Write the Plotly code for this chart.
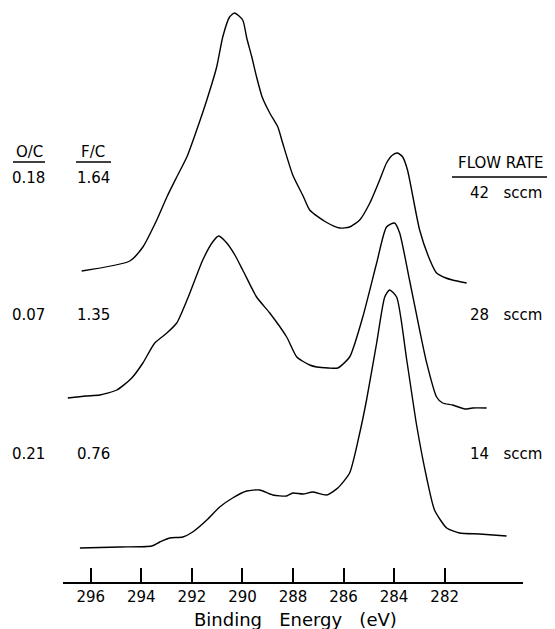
import plotly.graph_objects as go

# ---- data (binding energy in eV, intensity in arbitrary units) ----
energy_42 = [296.36, 294.46, 293.94, 293.39, 292.99, 292.60, 292.20, 291.81, 291.41, 291.02, 290.78, 290.51,
             290.31, 289.99, 289.83, 289.63, 289.44, 289.22, 288.92, 288.60, 288.41, 288.01, 287.60, 287.34,
             286.70, 286.15, 285.76, 285.36, 284.96, 284.57, 284.30, 284.06, 283.86, 283.66, 283.47,
             282.99, 282.60, 282.32, 281.95, 281.69, 281.13]
inten_42 = [12, 22, 36, 63, 86, 106, 126, 153, 183, 216, 246, 266,
            270, 263, 245, 226, 206, 186, 170, 156, 140, 108, 87, 73,
            61, 55, 56, 63, 80, 103, 120, 128, 130, 126, 113,
            53, 24, 10, 5, 3, 0]

energy_28 = [296.91, 296.20, 295.64, 294.97, 294.38, 293.94, 293.47, 292.99, 292.60, 292.16, 291.57, 291.18,
             290.94, 290.62, 290.30, 289.99, 289.44, 288.92, 288.25, 287.85, 287.34, 287.06, 286.60, 286.23,
             285.76, 285.24, 284.69, 284.30, 283.98, 283.78, 283.39, 282.99, 282.71, 282.32, 282.08, 281.69,
             281.20, 280.90, 280.34]
inten_28 = [10, 12, 13, 18, 30, 45, 65, 75, 85, 110, 148, 166,
            172, 165, 153, 138, 111, 95, 71, 51, 43, 41, 40, 40,
            51, 91, 145, 181, 185, 175, 128, 78, 45, 11, 5, 3,
            -1, 0, 0]

energy_14 = [296.43, 294.85, 293.59, 293.27, 292.88, 292.36, 291.97, 291.41, 290.90, 290.39, 289.83, 289.32,
             288.80, 288.25, 288.01, 287.60, 287.22, 286.67, 286.23, 285.76, 285.36, 285.09, 284.69, 284.37,
             284.18, 283.90, 283.50, 283.11, 282.71, 282.40, 281.92, 281.41, 280.62, 279.55]
inten_14 = [0, 1, 2, 6, 10, 11, 16, 28, 41, 50, 57, 58,
            53, 52, 55, 54, 56, 53, 60, 75, 115, 148, 205, 251,
            258, 251, 188, 123, 70, 38, 20, 15, 14, 12]

offsets = [299, 174, 34]
flow_labels = ["42 sccm", "28 sccm", "14 sccm"]
oc_values = ["0.18", "0.07", "0.21"]
fc_values = ["1.64", "1.35", "0.76"]
tick_values = [296, 294, 292, 290, 288, 286, 284, 282]
tick_labels = ["296", "294", "292", "290", "288", "286", "284", "282"]

# ---- layout helpers (window pixel -> paper); page body adds an 8px offset ----
PAGE = 8
W, H = 555 - PAGE, 629 - PAGE
L, R, T, B = 63 - PAGE, 32, 0, 47
PW, PH = W - L - R, H - T - B


def px(x):
    return (x - PAGE - L) / PW


def py(y):
    return (H - B - (y - PAGE)) / PH


FONT = "DejaVu Sans"

fig = go.Figure()
series = [(energy_42, inten_42), (energy_28, inten_28), (energy_14, inten_14)]
for (e, i), off, name in zip(series, offsets, flow_labels):
    fig.add_trace(go.Scatter(
        x=e, y=[v + off for v in i], mode="lines", name=name,
        line=dict(color="black", width=1.4, shape="spline", smoothing=0.6),
        showlegend=False, hoverinfo="skip"))

annotations = []


def txt(s, x, y, size=15):
    annotations.append(dict(text=s, x=px(x), y=py(y), xref="paper", yref="paper",
                            showarrow=False, xanchor="center", yanchor="middle",
                            font=dict(family=FONT, size=size, color="black")))


txt("O/C", 29, 152)
txt("F/C", 93, 152)
txt("FLOW RATE", 500, 163)
row_y = [178, 315, 454]
flow_y = [193, 315, 454]
for oc, fc, fl, ry, fy in zip(oc_values, fc_values, flow_labels, row_y, flow_y):
    txt(oc, 28, ry)
    txt(fc, 93, ry)
    txt(fl.replace(" ", "   "), 506, fy)
txt("Binding   Energy   (eV)", 295, 620, size=18)

shapes = []
for x0, x1, y in [(13, 45, 162), (76, 111, 162), (452, 547, 177)]:
    shapes.append(dict(type="line", xref="paper", yref="paper",
                       x0=px(x0), x1=px(x1), y0=py(y), y1=py(y),
                       line=dict(color="black", width=1.5)))

fig.update_layout(
    width=W, height=H,
    margin=dict(l=L, r=R, t=T, b=B, autoexpand=False),
    paper_bgcolor="white", plot_bgcolor="white",
    annotations=annotations, shapes=shapes,
    xaxis=dict(range=[297.1, 278.9], tickvals=tick_values, ticktext=tick_labels,
               ticks="inside", ticklen=14, tickwidth=1.5, tickcolor="black",
               showline=True, linecolor="black", linewidth=1.5,
               showgrid=False, zeroline=False, automargin=False,
               tickfont=dict(family=FONT, size=15, color="black")),
    yaxis=dict(range=[0, PH], visible=False, showgrid=False, zeroline=False),
)

fig.write_html("out.html")
